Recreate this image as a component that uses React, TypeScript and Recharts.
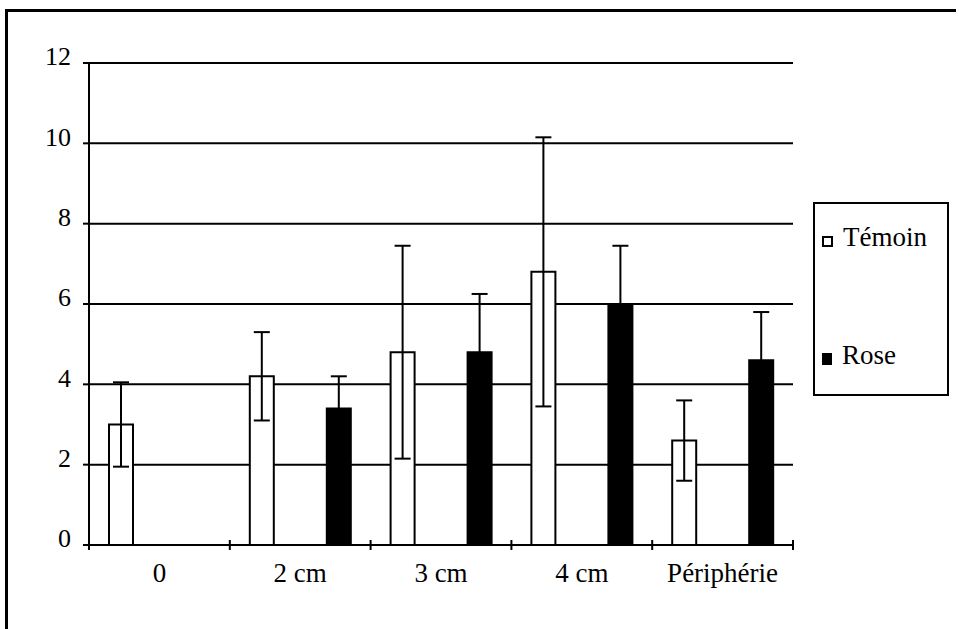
import { Bar, BarChart, CartesianGrid, ErrorBar, XAxis, YAxis } from "recharts";

const categories = ["0", "2 cm", "3 cm", "4 cm", "Périphérie"];
const temoin = [3.0, 4.2, 4.8, 6.8, 2.6];
const temoinErr = [1.05, 1.1, 2.65, 3.35, 1.0];
const rose = [null, 3.4, 4.8, 6.0, 4.6];
const roseErr = [null, 0.8, 1.45, 1.45, 1.2];
const yTicks = [0, 2, 4, 6, 8, 10, 12];
const seriesNames = ["Témoin", "Rose"];

const data = categories.map((name, i) => ({
  name,
  temoin: temoin[i],
  temoinErr: temoinErr[i],
  rose: rose[i],
  roseErr: roseErr[i],
}));

const font = "'Liberation Serif', 'Times New Roman', serif";
const X_MARGIN = 18;

// category label plus the little cross marks between categories
function XTick(props: any) {
  const { x, y, payload, index } = props;
  const half = payload.offset || 70;
  const axisY = y - X_MARGIN;
  const last = index === categories.length - 1;
  return (
    <g>
      <line x1={x - half} x2={x - half} y1={axisY - 5} y2={axisY + 5} stroke="#000" strokeWidth={2} />
      {last && (
        <line x1={x + half} x2={x + half} y1={axisY - 5} y2={axisY + 5} stroke="#000" strokeWidth={2} />
      )}
      <text x={x} y={y} dy="0.71em" textAnchor="middle" fill="#000" fontSize={27} fontFamily={font}>
        {payload.value}
      </text>
    </g>
  );
}

function LegendBox() {
  const item = (label: string, filled: boolean, top: number) => (
    <div style={{ position: "absolute", left: 7, top, display: "flex", alignItems: "flex-end" }}>
      <span
        style={{
          display: "inline-block",
          width: filled ? 10 : 7,
          height: filled ? 12 : 7,
          border: filled ? "none" : "2px solid #000",
          background: filled ? "#000" : "#fff",
          marginBottom: 4,
          marginRight: 10,
        }}
      />
      <span style={{ fontSize: 27, lineHeight: "27px" }}>{label}</span>
    </div>
  );
  return (
    <div
      style={{
        position: "absolute",
        left: 813,
        top: 202,
        width: 132,
        height: 190,
        border: "2px solid #000",
        fontFamily: font,
        background: "#fff",
      }}
    >
      {item(seriesNames[0], false, 20)}
      {item(seriesNames[1], true, 138)}
    </div>
  );
}

export default function App() {
  return (
    <div style={{ position: "absolute", left: 0, top: 0, width: 959, height: 629, overflow: "hidden", background: "#fff" }}>
      <div style={{ position: "absolute", left: 0, top: 0 }}>
        <BarChart
          width={959}
          height={629}
          data={data}
          margin={{ top: 63, right: 166, bottom: 54, left: 0 }}
          barSize={24}
          barGap={53}
        >
          <CartesianGrid yAxisId="l" vertical={false} stroke="#000" strokeWidth={2} />
          <XAxis
            dataKey="name"
            height={30}
            axisLine={{ stroke: "#000", strokeWidth: 2 }}
            tickLine={false}
            tickSize={0}
            tickMargin={X_MARGIN}
            tick={<XTick />}
            interval={0}
          />
          <YAxis
            yAxisId="l"
            width={89}
            domain={[0, 12]}
            ticks={yTicks}
            axisLine={{ stroke: "#000", strokeWidth: 2 }}
            tickLine={{ stroke: "#000", strokeWidth: 2 }}
            tickSize={6}
            tickMargin={12}
            tick={{ fill: "#000", fontSize: 26, fontFamily: font, dy: -7 }}
          />
          <YAxis
            yAxisId="r"
            orientation="right"
            width={0}
            domain={[0, 12]}
            ticks={yTicks}
            tick={false}
            tickLine={false}
            axisLine={{ stroke: "#000", strokeWidth: 2 }}
          />
          <Bar yAxisId="l" dataKey="temoin" name={seriesNames[0]} fill="#fff" stroke="#000" strokeWidth={2} isAnimationActive={false}>
            <ErrorBar dataKey="temoinErr" direction="y" width={8} stroke="#000" strokeWidth={2} isAnimationActive={false} />
          </Bar>
          <Bar yAxisId="l" dataKey="rose" name={seriesNames[1]} fill="#000" stroke="#000" strokeWidth={2} isAnimationActive={false}>
            <ErrorBar dataKey="roseErr" direction="y" width={8} stroke="#000" strokeWidth={2} isAnimationActive={false} />
          </Bar>
        </BarChart>
      </div>
      {/* scanned page frame: top and left edges only */}
      <svg width={959} height={629} style={{ position: "absolute", left: 0, top: 0, pointerEvents: "none" }}>
        <path d="M6.5 629 V10.5 H956" fill="none" stroke="#000" strokeWidth={3} />
      </svg>
      <LegendBox />
    </div>
  );
}
